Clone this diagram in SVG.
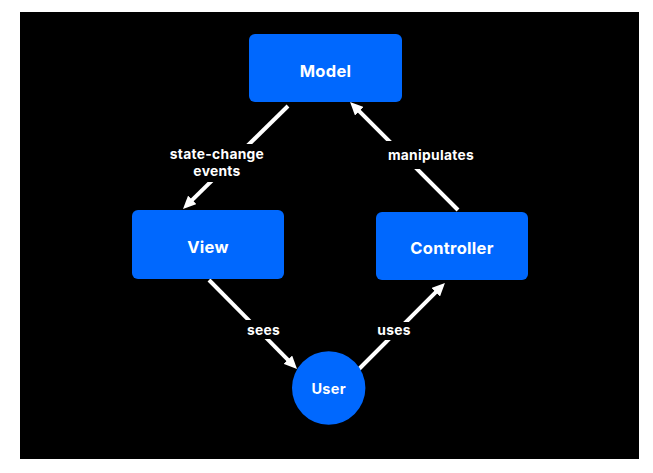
<svg xmlns="http://www.w3.org/2000/svg" width="653" height="473" viewBox="0 0 653 473">
<style>
.node{fill:#0068fe;}
.nt{font-family:Inter,"Liberation Sans",sans-serif;font-weight:700;font-size:16.5px;letter-spacing:0.3px;fill:#fff;text-anchor:middle;dominant-baseline:central;}
.lt{font-family:Inter,"Liberation Sans",sans-serif;font-weight:700;font-size:13.8px;letter-spacing:0.3px;fill:#fff;text-anchor:middle;dominant-baseline:central;}
.edge{stroke:#fff;stroke-width:4;fill:none;marker-end:url(#ah);}
.lbg{fill:#000;}
</style>
<defs>
<marker id="ah" markerUnits="userSpaceOnUse" markerWidth="13" markerHeight="12" viewBox="0 0 13 12" refX="5" refY="6" orient="auto">
<path d="M0,0 L13,6 L0,12 z" fill="#fff"/>
</marker>
</defs>
<rect x="0" y="0" width="653" height="473" fill="#fff"/>
<rect x="20" y="12" width="619" height="447" fill="#000"/>
<g id="connectors">
<g id="e-model-view">
<line class="edge" x1="288" y1="106" x2="188.7" y2="203.4"/>
<rect class="lbg" x="164" y="144" width="106" height="38"/>
<text class="lt" x="217" y="154">state-change</text>
<text class="lt" x="217" y="170.5">events</text>
</g>
<g id="e-controller-model">
<line class="edge" x1="458" y1="210" x2="355.7" y2="107.7"/>
<rect class="lbg" x="384" y="141" width="96" height="28"/>
<text class="lt" x="431" y="154.5">manipulates</text>
</g>
<g id="e-view-user">
<line class="edge" x1="209" y1="280" x2="291.4" y2="363.3"/>
<rect class="lbg" x="242" y="320" width="44" height="19"/>
<text class="lt" x="263.5" y="330">sees</text>
</g>
<g id="e-user-controller">
<line class="edge" x1="359" y1="369" x2="439.3" y2="288.7"/>
<rect class="lbg" x="372" y="322" width="45" height="18"/>
<text class="lt" x="394" y="330">uses</text>
</g>
</g>
<g id="model">
<rect class="node" x="249" y="34" width="153" height="68" rx="6"/>
<text class="nt" x="325.5" y="71">Model</text>
</g>
<g id="view">
<rect class="node" x="132" y="210" width="152" height="69" rx="6"/>
<text class="nt" x="208" y="246.5">View</text>
</g>
<g id="controller">
<rect class="node" x="376" y="212" width="152" height="68" rx="6"/>
<text class="nt" x="452" y="247.5">Controller</text>
</g>
<g id="user">
<circle class="node" cx="328.7" cy="388" r="36.7"/>
<text class="nt" x="328.7" y="388.5" style="font-size:14.5px">User</text>
</g>
</svg>
